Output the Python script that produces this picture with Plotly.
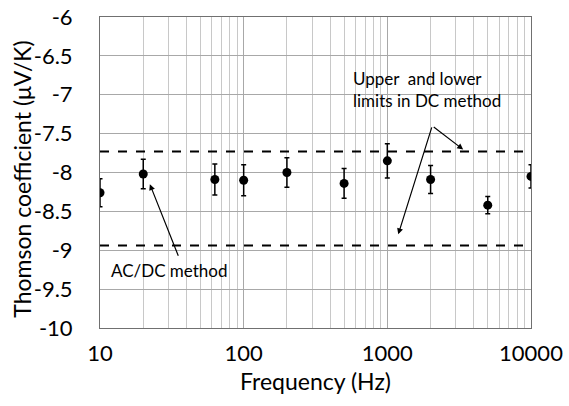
import plotly.graph_objects as go

freq_hz = [10, 20, 63, 100, 200, 500, 1000, 2000, 5000, 10000]
thomson = [-8.26, -8.02, -8.09, -8.10, -8.00, -8.14, -7.85, -8.09, -8.42, -8.05]
err = [0.18, 0.19, 0.20, 0.20, 0.19, 0.19, 0.22, 0.18, 0.11, 0.15]
upper_limit = -7.73
lower_limit = -8.94
x_range = [10, 10000]
y_ticks = [-6, -6.5, -7, -7.5, -8, -8.5, -9, -9.5, -10]
x_ticks = [10, 100, 1000, 10000]
y_title = "Thomson coefficient (μV/K)"

FONT = "Lato, 'Open Sans', sans-serif"

fig = go.Figure()
for lim in (upper_limit, lower_limit):
    fig.add_trace(go.Scatter(x=x_range, y=[lim, lim], mode="lines",
                             line=dict(color="black", width=2, dash="dash"),
                             showlegend=False, hoverinfo="skip"))
fig.add_trace(go.Scatter(
    x=freq_hz, y=thomson, mode="markers",
    marker=dict(color="black", size=9),
    error_y=dict(type="data", array=err, color="black", thickness=1.5, width=2.5),
    showlegend=False))

fig.update_xaxes(type="log", range=[1, 4], automargin=False, ticklabeloverflow="allow",
                 tickvals=x_ticks, ticktext=[str(v) for v in x_ticks],
                 showgrid=True, gridcolor="#a8a8a8", gridwidth=1,
                 minor=dict(showgrid=True, gridcolor="#c8c8c8", gridwidth=1, dtick="D1", ticks=""),
                 showline=True, linecolor="#707070", linewidth=1, mirror=True,
                 ticks="", ticklabelstandoff=6,
                 tickfont=dict(family=FONT, size=22, color="black"),
                 title=dict(text="Frequency (Hz)", font=dict(family=FONT, size=23, color="black"), standoff=8),
                 zeroline=False)
fig.update_yaxes(range=[-10, -6], automargin=False, ticklabeloverflow="allow",
                 tickvals=y_ticks, ticktext=[str(v) for v in y_ticks],
                 showgrid=True, gridcolor="#a8a8a8", gridwidth=1,
                 showline=True, linecolor="#707070", linewidth=1, mirror=True,
                 ticks="", ticklabelstandoff=22,
                 tickfont=dict(family=FONT, size=22, color="black"),
                 zeroline=False)

fig.add_annotation(x=-0.181, y=0.48, xref="paper", yref="paper", text=y_title,
                   textangle=-90, showarrow=False, xanchor="center", yanchor="middle",
                   font=dict(family=FONT, size=23, color="black"))

ann_font = dict(family=FONT, size=17, color="black")
fig.add_annotation(x=1.347, y=-8.15, ax=1.549, ay=-9.09, axref="x", ayref="y",
                   xref="x", yref="y", text="", showarrow=True,
                   arrowhead=2, arrowsize=1, arrowwidth=1.2, arrowcolor="black")
fig.add_annotation(x=1.486, y=-9.26, xref="x", yref="y", text="AC/DC method",
                   showarrow=False, font=ann_font)
fig.add_annotation(x=3.528, y=-7.705, ax=3.3125, ay=-7.40, axref="x", ayref="y",
                   xref="x", yref="y", text="", showarrow=True,
                   arrowhead=2, arrowsize=1, arrowwidth=1.2, arrowcolor="black")
fig.add_annotation(x=3.076, y=-8.795, ax=3.3125, ay=-7.40, axref="x", ayref="y",
                   xref="x", yref="y", text="", showarrow=True,
                   arrowhead=2, arrowsize=1, arrowwidth=1.2, arrowcolor="black")
fig.add_annotation(x=2.75, y=-6.93, xref="x", yref="y", xanchor="left", align="left",
                   text="Upper  and lower<br>limits in DC method",
                   showarrow=False, font=ann_font)

fig.update_layout(width=569, height=406, margin=dict(l=100, r=38, t=17, b=78),
                  plot_bgcolor="white", paper_bgcolor="white")
fig.write_html("out.html", config={"displayModeBar": False},
               post_script="document.body.style.margin='0';document.body.style.overflow='hidden';")
